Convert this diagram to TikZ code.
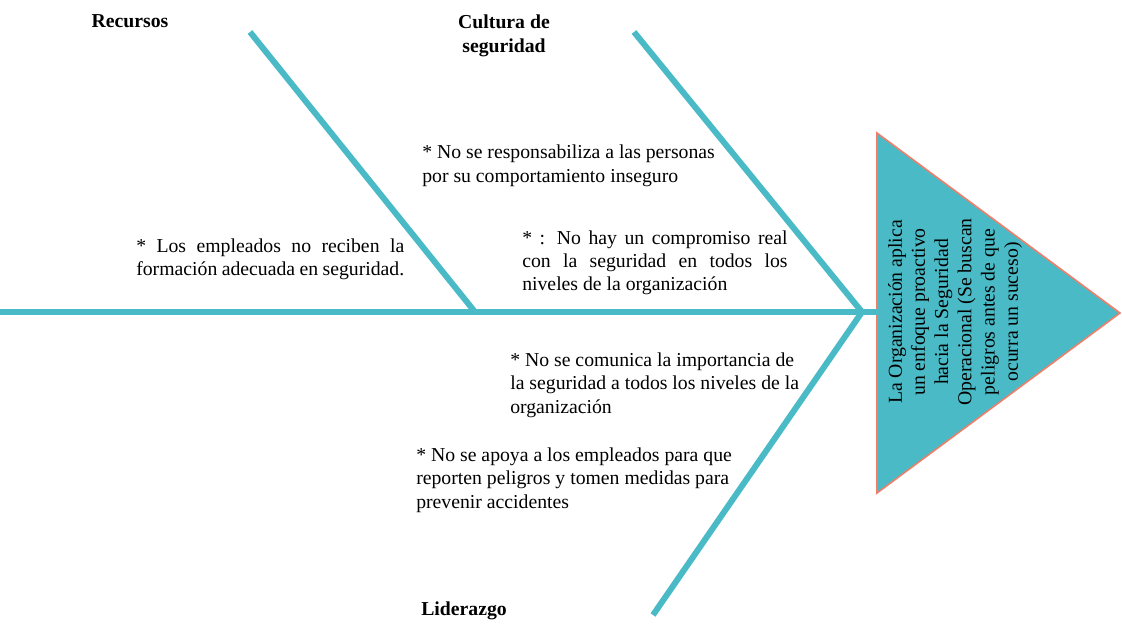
\documentclass[tikz,border=0pt]{standalone}
\usepackage{xcolor}
\usepackage{fontspec}
\setmainfont{Liberation Serif}
\definecolor{espina}{RGB}{74,187,198}
\definecolor{borde}{RGB}{236,128,106}

\begin{document}
\hyphenpenalty=10000
\begin{tikzpicture}[x=0.75pt,y=0.75pt,yscale=-1,xscale=1,
  texto/.style={font=\fontsize{14.8}{17.4}\selectfont, inner sep=0.75pt},
  hueso/.style={draw=espina, line width=4.5pt}]
\useasboundingbox (0,0) rectangle (1122,632);

%Head
\draw [fill=espina, draw=borde, line width=1.2pt] (877,133) -- (1120,313) -- (877,493) -- cycle ;
\coordinate (cabeza) at (877,312);
\coordinate (cola) at (0,312);
\coordinate (unionA) at (475,312);
\coordinate (unionB) at (862,312);
\coordinate (recA) at (250,32);
\coordinate (culA) at (634,32);
\coordinate (lidA) at (653,615);

%Straight Lines
\draw [hueso, line width=3.8pt] (cola) -- (cabeza) ;
\draw [hueso] (recA) -- (unionA) ;
\draw [hueso] (culA) -- (unionB) ;
\draw [hueso] (lidA) -- (unionB) ;

% Text Node
\draw (130,27) node (recursos) [anchor=base][texto] {\textbf{Recursos}};
% Text Node
\draw (504,52) node (cultura) [anchor=base][texto][align=center] {\textbf{Cultura de}\\\textbf{seguridad}};
% Text Node
\draw (464,615) node (liderazgo) [anchor=base][texto] {\textbf{Liderazgo}};
% Text Node
\draw (135,252) node (formacion) [anchor=base west][texto][text width=201pt, align=justify] {* Los empleados no reciben la formación adecuada en seguridad.};
% Text Node
\draw (421,182) node (responsable) [anchor=base west][texto][align=left] {* No se responsabiliza a las personas\\por su comportamiento inseguro};
% Text Node
\draw (521,244) node (compromiso) [anchor=base west][texto][text width=199pt, align=justify] {* : No hay un compromiso real con la seguridad en todos los niveles de la organización};
% Text Node
\draw (509,413) node (comunica) [anchor=base west][texto][align=left] {* No se comunica la importancia de\\la seguridad a todos los niveles de la\\organización};
% Text Node
\draw (415,508) node (apoyo) [anchor=base west][texto][align=left] {* No se apoya a los empleados para que\\reporten peligros y tomen medidas para\\prevenir accidentes};
% Text Node
\draw (955,312) node (efecto) [rotate=90][texto][align=center] {La Organización aplica\\un enfoque proactivo\\hacia la Seguridad\\Operacional (Se buscan\\peligros antes de que\\ocurra un suceso)};

\end{tikzpicture}
\end{document}
